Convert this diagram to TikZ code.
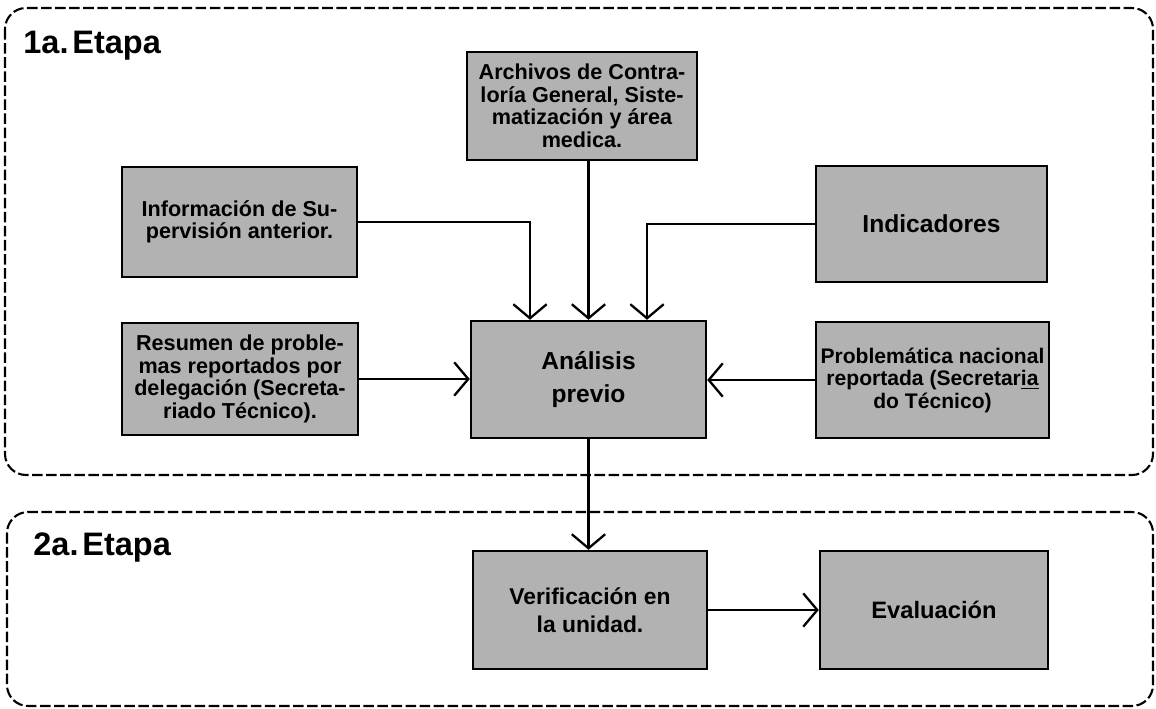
\documentclass[tikz,border=0pt]{standalone}
\usepackage{fontspec}
\setmainfont{Liberation Sans}
\usetikzlibrary{arrows.meta}

\begin{document}
\begin{tikzpicture}[
  caja/.style={draw,line width=1.4pt,fill=black!30,inner sep=2pt,align=center,
    font=\fontsize{12.3}{12.8}\selectfont\bfseries},
  cajagrande/.style={caja,font=\fontsize{14}{19}\selectfont\bfseries},
  flecha/.style={line width=1.3pt,-{Straight Barb[length=8pt,width=19pt]}},
  etapa/.style={dash pattern=on 6pt off 2pt,line width=1.2pt,rounded corners=12pt},
  titulo/.style={anchor=base west,inner sep=0pt,font=\fontsize{18.5}{20}\selectfont\bfseries}
]
\useasboundingbox (0,0) rectangle (23.12,-14.16);
% etapas
\draw[etapa] (0.10,-0.16) rectangle (23.06,-9.50);
\draw[etapa] (0.14,-10.24) rectangle (23.06,-14.12);
\node[titulo] (etapa1) at (0.46,-1.06) {1a.\hspace{0.12em}Etapa};
\node[titulo] (etapa2) at (0.66,-11.10) {2a.\hspace{0.12em}Etapa};

% primera etapa
\node[caja,minimum width=4.6cm,minimum height=2.16cm] (archivos) at (11.64,-2.12)
  {Archivos de Contra-\\lor\'{\i}a General, Siste-\\matización y área\\medica.};
\node[caja,minimum width=4.7cm,minimum height=2.2cm] (info) at (4.79,-4.44)
  {Información de Su-\\pervisión anterior.};
\node[cajagrande,minimum width=4.62cm,minimum height=2.32cm] (indic) at (18.63,-4.48)
  {Indicadores};
\node[caja,minimum width=4.72cm,minimum height=2.24cm] (resumen) at (4.80,-7.58)
  {Resumen de proble-\\mas reportados por\\delegación (Secreta-\\riado Técnico).};
\node[cajagrande,minimum width=4.7cm,minimum height=2.34cm] (analisis) at (11.77,-7.59)
  {Análisis\\previo};
\node[caja,font=\fontsize{12}{12.8}\selectfont\bfseries,minimum width=4.66cm,minimum height=2.32cm] (problem) at (18.65,-7.60)
  {Problemática nacional\\reportada (Secretar\underline{ia}\\do Técnico)};

% segunda etapa
\node[cajagrande,font=\fontsize{13}{16}\selectfont\bfseries,minimum width=4.68cm,minimum height=2.36cm] (verif) at (11.8,-12.2)
  {Verificación en\\la unidad.};
\node[cajagrande,font=\fontsize{13.5}{16}\selectfont\bfseries,minimum width=4.56cm,minimum height=2.36cm] (evalua) at (18.68,-12.2)
  {Evaluación};

% conexiones
\draw[flecha] (info.east) -| ([xshift=-1.17cm]analisis.north);
\draw[flecha] (archivos.south -| analisis.north) -- (analisis.north);
\draw[flecha] (indic.west) -| ([xshift=1.17cm]analisis.north);
\draw[flecha] (resumen.east) -- (resumen.east -| analisis.west);
\draw[flecha] (problem.west) -- (problem.west -| analisis.east);
\draw[flecha] (analisis.south) -- (analisis.south |- verif.north);
\draw[flecha] (verif.east) -- (verif.east -| evalua.west);
\end{tikzpicture}
\end{document}
